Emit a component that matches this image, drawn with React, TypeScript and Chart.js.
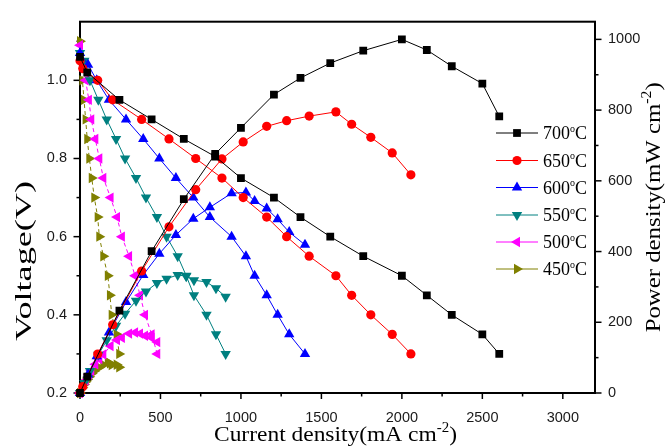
import React, { useEffect, useRef } from 'react';
import { Chart, registerables } from 'chart.js';

Chart.register(...registerables);

// Cell operating temperatures, with colour and marker for each series
const temperatures = ['700', '650', '600', '550', '500', '450'];
const seriesColors = ['#000000', '#ff0000', '#0000ff', '#008080', '#ff00ff', '#808000'];
const markerStyles = ['rect', 'circle', 'triangle', 'triangle', 'triangle', 'triangle'];
const markerRotations = [0, 0, 0, 180, 270, 90];
const markerRadii = [5.5, 4.6, 6, 6, 6, 6];
const lineDashes: number[][] = [[], [], [], [], [4, 3], [4, 3]];

// Current density (mA cm^-2)
const current700 = [0, 45, 245, 445, 645, 840, 1000, 1205, 1370, 1555, 1760, 2000, 2155, 2310, 2500, 2605];
const current650 = [0, 17, 110, 203, 383, 553, 719, 882, 1014, 1160, 1284, 1424, 1590, 1688, 1807, 1940, 2056];
const current600 = [0, 50, 104, 180, 286, 393, 493, 596, 704, 807, 942, 1031, 1085, 1160, 1228, 1300, 1398];
const current550 = [0, 27, 62, 114, 166, 224, 280, 348, 410, 478, 538, 607, 660, 708, 786, 845, 905];
const current500 = [0, 35, 55, 70, 95, 120, 145, 190, 230, 260, 305, 342, 373, 404, 445, 480];
const current450 = [0, 15, 25, 35, 45, 58, 73, 89, 110, 120, 145, 173, 186, 197, 228, 244];

// Cell voltage (V)
const voltage700 = [1.06, 1.02, 0.95, 0.9, 0.85, 0.805, 0.75, 0.7, 0.65, 0.6, 0.55, 0.5, 0.45, 0.4, 0.35, 0.3];
const voltage650 = [1.05, 1.03, 1.0, 0.95, 0.9, 0.85, 0.8, 0.75, 0.7, 0.65, 0.6, 0.55, 0.5, 0.45, 0.4, 0.35, 0.3];
const voltage600 = [1.07, 1.04, 1.0, 0.95, 0.9, 0.85, 0.8, 0.75, 0.7, 0.65, 0.6, 0.55, 0.5, 0.45, 0.4, 0.35, 0.3];
const voltage550 = [1.07, 1.05, 1.0, 0.95, 0.9, 0.85, 0.8, 0.75, 0.7, 0.65, 0.6, 0.55, 0.5, 0.45, 0.4, 0.35, 0.3];
const voltage500 = [1.09, 1.0, 0.95, 0.9, 0.85, 0.8, 0.75, 0.7, 0.65, 0.6, 0.55, 0.5, 0.45, 0.4, 0.35, 0.3];
const voltage450 = [1.1, 1.0, 0.95, 0.9, 0.85, 0.8, 0.75, 0.7, 0.65, 0.6, 0.55, 0.5, 0.45, 0.4, 0.35, 0.3];

// Power density (mW cm^-2)
const power700 = [0, 46, 233, 401, 548, 676, 750, 844, 891, 933, 968, 1000, 970, 924, 875, 782];
const power650 = [0, 18, 110, 193, 345, 470, 575, 662, 710, 754, 770, 783, 795, 760, 723, 679, 617];
const power600 = [0, 52, 104, 171, 257, 334, 394, 447, 493, 525, 565, 567, 543, 522, 491, 455, 419];
const power550 = [0, 28, 62, 108, 149, 190, 224, 261, 287, 311, 323, 334, 330, 319, 314, 296, 272];
const power500 = [0, 35, 52, 63, 81, 96, 109, 133, 150, 156, 168, 171, 168, 162, 156, 144];
const power450 = [0, 15, 24, 32, 38, 46, 55, 62, 72, 72, 80, 87, 84, 79, 80, 73];

// Axis ticks
const currentTicks = [0, 500, 1000, 1500, 2000, 2500, 3000];
const currentMinorTicks = [250, 750, 1250, 1750, 2250, 2750];
const voltageTicks = [0.2, 0.4, 0.6, 0.8, 1.0];
const voltageMinorTicks = [0.3, 0.5, 0.7, 0.9, 1.1];
const powerTicks = [0, 200, 400, 600, 800, 1000];
const powerMinorTicks = [100, 300, 500, 700, 900];

const currents = [current700, current650, current600, current550, current500, current450];
const voltages = [voltage700, voltage650, voltage600, voltage550, voltage500, voltage450];
const powers = [power700, power650, power600, power550, power500, power450];

const SERIF = '"Liberation Serif", "Times New Roman", serif';
const SANS = '"Liberation Sans", Arial, sans-serif';

type Part = { t: string; sup?: boolean };

function drawRich(
  ctx: CanvasRenderingContext2D,
  parts: Part[],
  x: number,
  y: number,
  opts: { size: number; supSize: number; rise: number; rotate?: number; align?: 'left' | 'center'; length?: number }
) {
  const mainFont = `${opts.size}px ${SERIF}`;
  const supFont = `${opts.supSize}px ${SERIF}`;
  const widths = parts.map((p) => {
    ctx.font = p.sup ? supFont : mainFont;
    return ctx.measureText(p.t).width;
  });
  const total = widths.reduce((a, b) => a + b, 0);
  const k = opts.length ? opts.length / total : 1;
  ctx.save();
  ctx.translate(x, y);
  if (opts.rotate) ctx.rotate(opts.rotate);
  ctx.scale(k, 1);
  ctx.fillStyle = '#000';
  ctx.textBaseline = 'alphabetic';
  ctx.textAlign = 'left';
  let cx = opts.align === 'center' ? -total / 2 : 0;
  parts.forEach((p, i) => {
    ctx.font = p.sup ? supFont : mainFont;
    ctx.fillText(p.t, cx, p.sup ? -opts.rise : 0);
    cx += widths[i];
  });
  ctx.restore();
}

function drawMarker(ctx: CanvasRenderingContext2D, style: string, rotDeg: number, x: number, y: number, r: number) {
  ctx.beginPath();
  if (style === 'rect') {
    const s = Math.SQRT1_2 * r;
    ctx.rect(x - s, y - s, 2 * s, 2 * s);
  } else if (style === 'circle') {
    ctx.arc(x, y, r, 0, Math.PI * 2);
  } else {
    let rad = (rotDeg * Math.PI) / 180;
    ctx.moveTo(x + Math.sin(rad) * r, y - Math.cos(rad) * r);
    for (let i = 0; i < 2; i++) {
      rad += (2 * Math.PI) / 3;
      ctx.lineTo(x + Math.sin(rad) * r, y - Math.cos(rad) * r);
    }
    ctx.closePath();
  }
  ctx.fill();
}

const framePlugin = {
  id: 'frameAndTicks',
  beforeDraw(chart: any) {
    const ctx = chart.ctx as CanvasRenderingContext2D;
    ctx.save();
    ctx.fillStyle = '#ffffff';
    ctx.fillRect(0, 0, chart.width, chart.height);
    ctx.restore();
  },
  beforeDatasetsDraw(chart: any) {
    const ctx = chart.ctx as CanvasRenderingContext2D;
    const { left, right, top, bottom } = chart.chartArea;
    const xs = chart.scales.x;
    const yv = chart.scales.y;
    const yp = chart.scales.y1;
    ctx.save();
    ctx.strokeStyle = '#000';
    ctx.lineWidth = 1.5;
    const tick = (x1: number, y1: number, x2: number, y2: number) => {
      ctx.beginPath();
      ctx.moveTo(x1, y1);
      ctx.lineTo(x2, y2);
      ctx.stroke();
    };
    currentTicks.forEach((v) => { const px = xs.getPixelForValue(v); tick(px, bottom, px, bottom + 6); });
    currentMinorTicks.forEach((v) => { const px = xs.getPixelForValue(v); tick(px, bottom, px, bottom + 3.5); });
    voltageTicks.forEach((v) => { const py = yv.getPixelForValue(v); tick(left, py, left - 6.5, py); });
    voltageMinorTicks.forEach((v) => { const py = yv.getPixelForValue(v); tick(left, py, left - 3.5, py); });
    powerTicks.forEach((v) => { const py = yp.getPixelForValue(v); tick(right, py, right + 6.5, py); });
    powerMinorTicks.forEach((v) => { const py = yp.getPixelForValue(v); tick(right, py, right + 3.5, py); });
    ctx.lineWidth = 2;
    ctx.strokeRect(left, top, right - left, bottom - top);
    ctx.restore();
  },
  afterDraw(chart: any) {
    const ctx = chart.ctx as CanvasRenderingContext2D;
    const { left, right, top, bottom } = chart.chartArea;
    const midY = (top + bottom) / 2;

    // axis titles
    drawRich(ctx, [{ t: 'Current density(mA cm' }, { t: '-2', sup: true }, { t: ')' }], (left + right) / 2 - 2, 441, {
      size: 22, supSize: 14, rise: 9, align: 'center', length: 243,
    });
    drawRich(ctx, [{ t: 'Voltage(V)' }], 31, 261, {
      size: 23, supSize: 14, rise: 9, align: 'center', rotate: -Math.PI / 2, length: 160,
    });
    drawRich(ctx, [{ t: 'Power density(mW cm' }, { t: '-2', sup: true }, { t: ')' }], 660, midY, {
      size: 22, supSize: 14, rise: 9, align: 'center', rotate: -Math.PI / 2, length: 250,
    });

    // legend
    const lx0 = 496;
    const lx1 = 538;
    const rowY = [133, 160.5, 187.5, 215, 242, 269];
    temperatures.forEach((t, i) => {
      const y = rowY[i];
      ctx.save();
      ctx.strokeStyle = seriesColors[i];
      ctx.fillStyle = seriesColors[i];
      ctx.lineWidth = 1;
      ctx.beginPath();
      ctx.moveTo(lx0, y);
      ctx.lineTo(lx1, y);
      ctx.stroke();
      drawMarker(ctx, markerStyles[i], markerRotations[i], (lx0 + lx1) / 2, y, markerRadii[i]);
      ctx.restore();
      drawRich(ctx, [{ t: t }, { t: 'o', sup: true }, { t: 'C' }], 543, y + 6.3, {
        size: 18, supSize: 10, rise: 7.5, align: 'left',
      });
    });
  },
};

function buildDatasets() {
  const sets: any[] = [];
  temperatures.forEach((t, i) => {
    const common = {
      borderColor: seriesColors[i],
      backgroundColor: seriesColors[i],
      pointBackgroundColor: seriesColors[i],
      pointBorderColor: seriesColors[i],
      pointBorderWidth: 0,
      pointStyle: markerStyles[i],
      rotation: markerRotations[i],
      pointRadius: markerRadii[i],
      borderWidth: 1,
      borderDash: lineDashes[i],
      showLine: true,
      tension: 0,
      clip: 12,
    };
    sets.push({
      ...common,
      label: `${t} V`,
      yAxisID: 'y',
      data: currents[i].map((c, j) => ({ x: c, y: voltages[i][j] })),
    });
    sets.push({
      ...common,
      label: `${t} P`,
      yAxisID: 'y1',
      data: currents[i].map((c, j) => ({ x: c, y: powers[i][j] })),
    });
  });
  return sets;
}

const tickFont = { family: SANS, size: 14.5 };
const tickColor = '#1a1a1a';

export default function App() {
  const canvasRef = useRef<HTMLCanvasElement | null>(null);

  useEffect(() => {
    document.body.style.margin = '0';
    const canvas = canvasRef.current;
    if (!canvas) return;
    const chart = new Chart(canvas, {
      type: 'scatter',
      data: { datasets: buildDatasets() },
      options: {
        responsive: false,
        devicePixelRatio: 1,
        animation: false,
        events: [],
        layout: { padding: { top: 16, left: 0, right: 0, bottom: 0 } },
        plugins: { legend: { display: false }, tooltip: { enabled: false } },
        scales: {
          x: {
            type: 'linear',
            position: 'bottom',
            min: 0,
            max: 3200,
            afterFit: (s: any) => { s.height = 53; },
            afterBuildTicks: (s: any) => { s.ticks = currentTicks.map((v) => ({ value: v })); },
            ticks: { font: tickFont, color: tickColor, padding: 16, maxRotation: 0, autoSkip: false, callback: (v: any) => String(v) },
            grid: { display: false, drawTicks: false },
            border: { display: false },
          },
          y: {
            type: 'linear',
            position: 'left',
            min: 0.2,
            max: 1.15,
            afterFit: (s: any) => { s.width = 80; },
            afterBuildTicks: (s: any) => { s.ticks = voltageTicks.map((v) => ({ value: v })); },
            ticks: { font: tickFont, color: tickColor, padding: 13, callback: (v: any) => Number(v).toFixed(1) },
            grid: { display: false, drawTicks: false },
            border: { display: false },
          },
          y1: {
            type: 'linear',
            position: 'right',
            min: 0,
            max: 1050,
            afterFit: (s: any) => { s.width = 72; },
            afterBuildTicks: (s: any) => { s.ticks = powerTicks.map((v) => ({ value: v })); },
            ticks: { font: tickFont, color: tickColor, padding: 13, callback: (v: any) => String(v) },
            grid: { display: false, drawTicks: false },
            border: { display: false },
          },
        },
      },
      plugins: [framePlugin],
    } as any);
    return () => chart.destroy();
  }, []);

  return (
    <div style={{ width: 667, height: 446, background: '#ffffff' }}>
      <canvas ref={canvasRef} width={667} height={446} style={{ display: 'block', width: 667, height: 446 }} />
    </div>
  );
}
